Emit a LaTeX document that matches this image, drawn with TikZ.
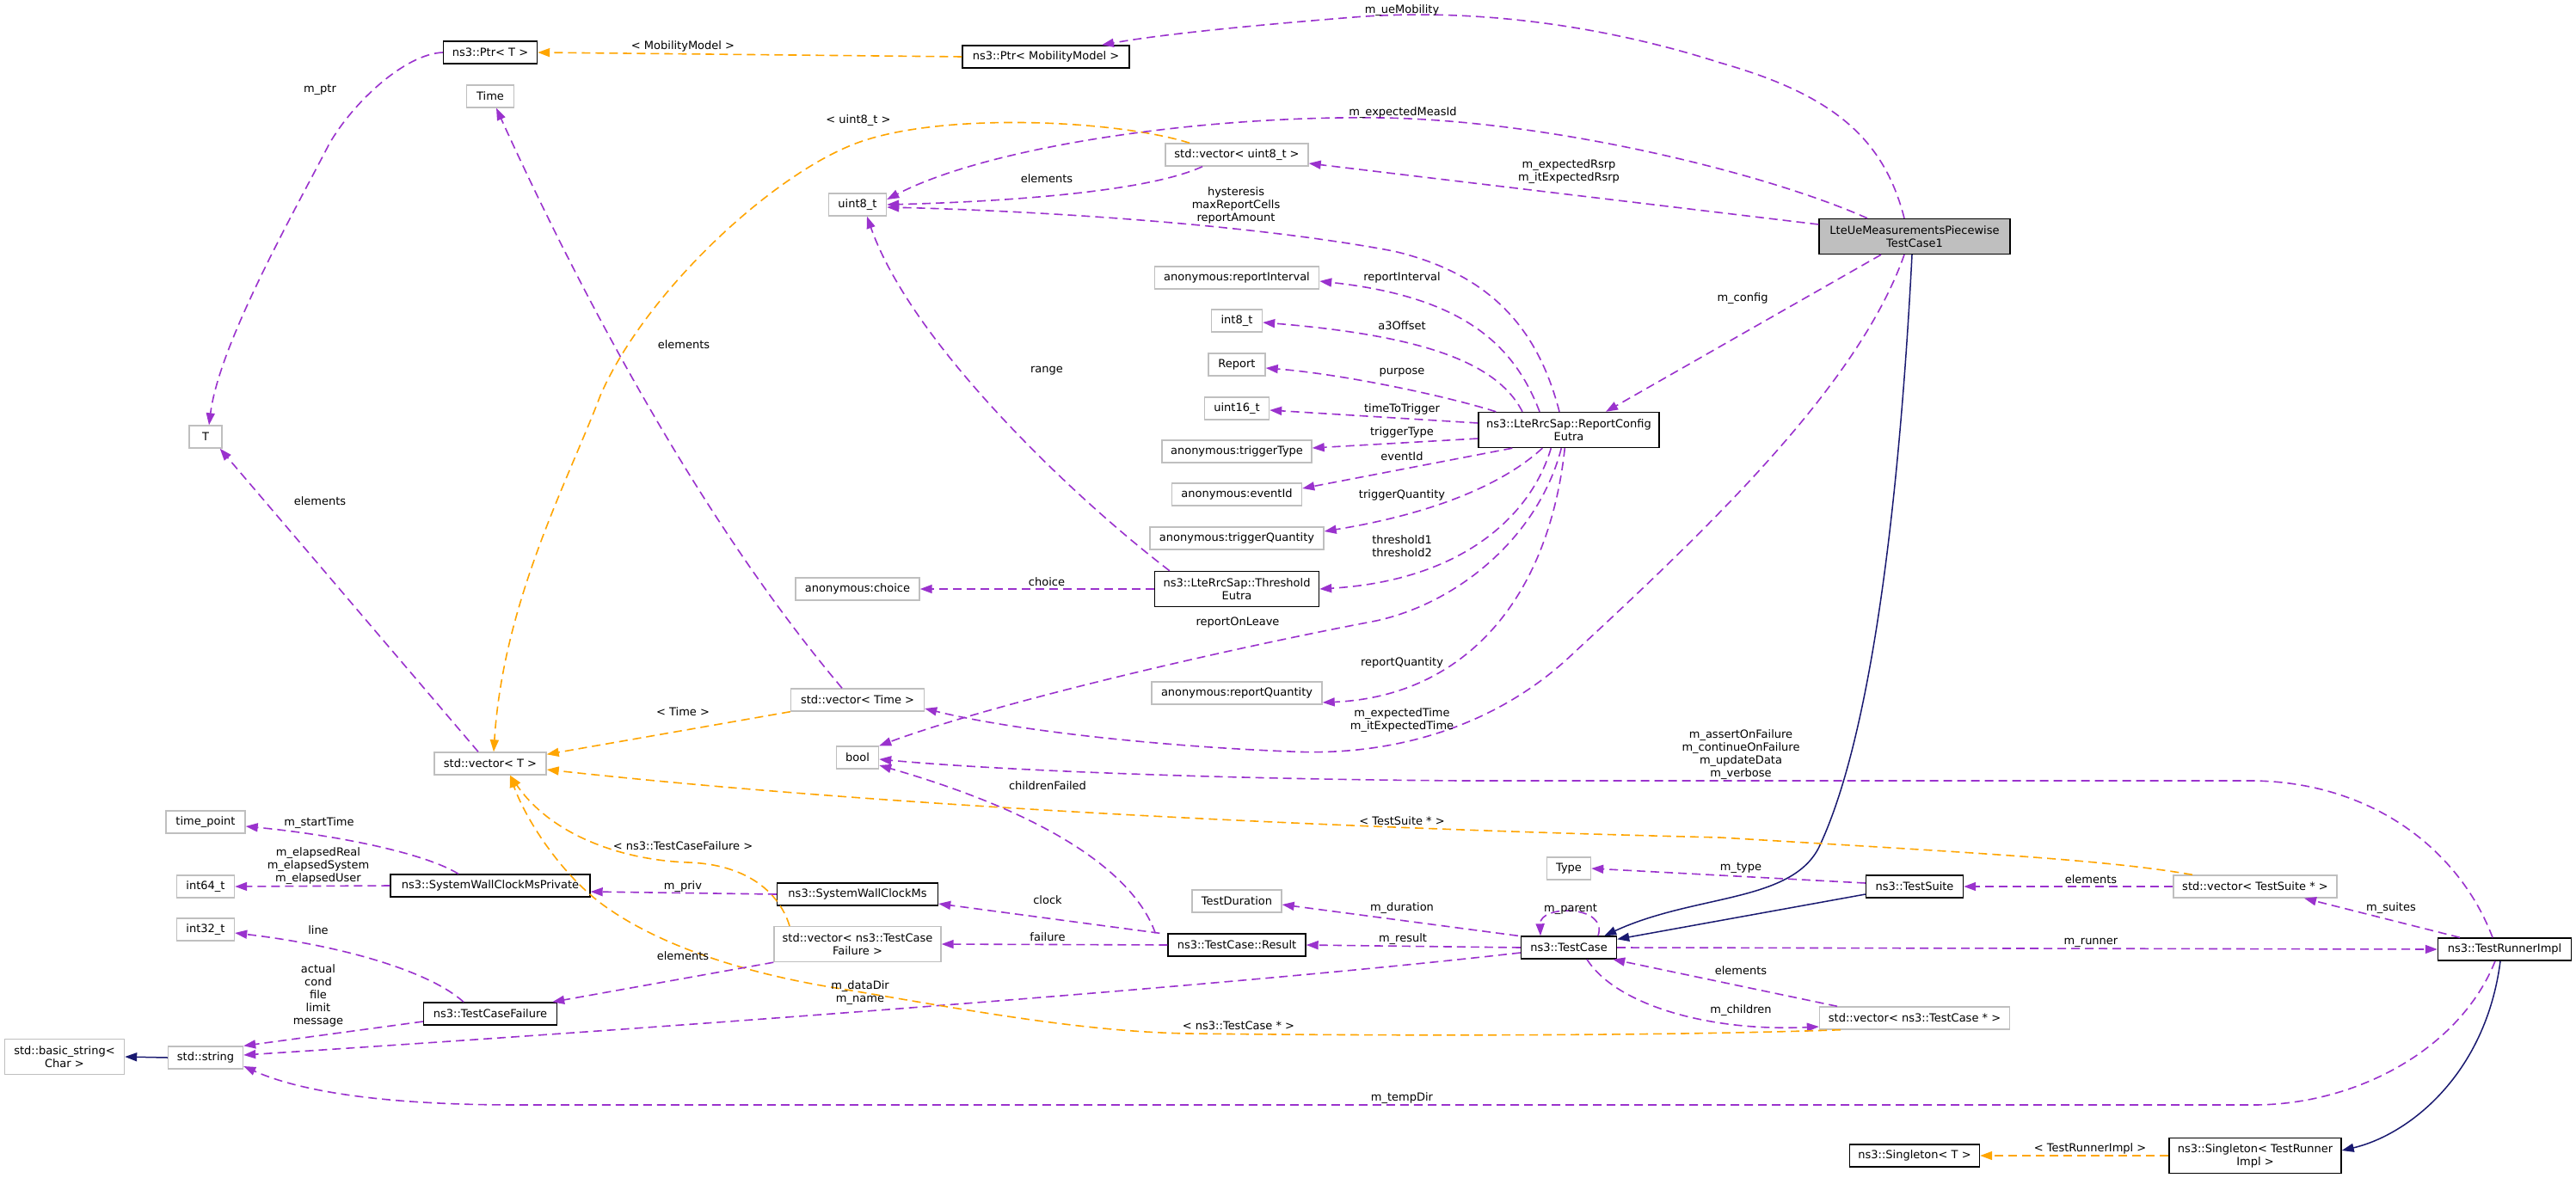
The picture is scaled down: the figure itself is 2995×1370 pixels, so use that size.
\documentclass[tikz,border=0pt]{standalone}
\usepackage{fontspec}
\setmainfont{DejaVu Sans}
\usetikzlibrary{arrows.meta}
\definecolor{purp}{HTML}{9A32CD}
\definecolor{orng}{HTML}{FFA500}
\definecolor{navyc}{HTML}{191970}
\definecolor{greyb}{HTML}{BFBFBF}
\tikzset{
  bx/.style={draw, rectangle, inner sep=0pt, align=center, fill=white,
    font=\fontsize{13}{15}\selectfont, minimum height=26pt, line width=1.4pt},
  nb/.style={bx, draw=black},
  gbx/.style={bx, draw=greyb},
  two/.style={minimum height=41pt},
  lbl/.style={align=center, inner sep=0pt, font=\fontsize{13}{15}\selectfont},
  tip/.style={-{Triangle[length=14pt,width=10pt]}},
  pe/.style={draw=purp, line width=1.6pt, dash pattern=on 10pt off 6pt, tip},
  oe/.style={draw=orng, line width=1.6pt, dash pattern=on 10pt off 6pt, tip},
  ne/.style={draw=navyc, line width=1.5pt, tip},
}
\begin{document}
\begin{tikzpicture}[x=1pt,y=-1pt]
\useasboundingbox (0,0) rectangle (2995,1370);
\fill[white] (0,0) rectangle (2995,1370);

% nodes
\node[nb, minimum width=109pt] (ptrT) at (570,61) {ns3::Ptr< T >};
\node[gbx, minimum width=55pt] (timeN) at (570,112) {Time};
\node[nb, minimum width=194pt] (ptrmm) at (1216,66) {ns3::Ptr< MobilityModel >};
\node[gbx, minimum width=166pt] (vecu8) at (1438,180) {std::vector< uint8\_t >};
\node[gbx, minimum width=67pt] (u8) at (997,238) {uint8\_t};
\node[nb, two, fill=greyb, minimum width=222pt] (lte) at (2226,275) {LteUeMeasurementsPiecewise\\TestCase1};
\node[gbx, minimum width=191pt] (ri) at (1438,323) {anonymous:reportInterval};
\node[gbx, minimum width=59pt] (i8) at (1438,373) {int8\_t};
\node[gbx, minimum width=66pt] (report) at (1438,424) {Report};
\node[gbx, minimum width=38pt] (T) at (239,508) {T};
\node[gbx, minimum width=75pt] (u16) at (1438,475) {uint16\_t};
\node[nb, two, minimum width=210pt] (rce) at (1824,500) {ns3::LteRrcSap::ReportConfig\\Eutra};
\node[gbx, minimum width=174pt] (tt) at (1438,525) {anonymous:triggerType};
\node[gbx, minimum width=151pt] (ev) at (1438,575) {anonymous:eventId};
\node[gbx, minimum width=202pt] (tq) at (1438,626) {anonymous:triggerQuantity};
\node[gbx, minimum width=144pt] (choice) at (997,685) {anonymous:choice};
\node[nb, two, minimum width=191pt] (th) at (1438,685) {ns3::LteRrcSap::Threshold\\Eutra};
\node[gbx, minimum width=198pt] (rq) at (1438,806) {anonymous:reportQuantity};
\node[gbx, minimum width=155pt] (vectime) at (997,814) {std::vector< Time >};
\node[gbx, minimum width=49pt] (bool) at (997,881) {bool};
\node[gbx, minimum width=130pt] (vecT) at (570,888) {std::vector< T >};
\node[gbx, minimum width=92pt] (tp) at (239,956) {time\_point};
\node[gbx, minimum width=67pt] (i64) at (239,1031) {int64\_t};
\node[nb, minimum width=232pt] (swcmp) at (570,1030) {ns3::SystemWallClockMsPrivate};
\node[nb, minimum width=187pt] (swcm) at (997,1040) {ns3::SystemWallClockMs};
\node[gbx, minimum width=67pt] (i32) at (239,1081) {int32\_t};
\node[gbx, two, minimum width=194pt] (vectcf) at (997,1098) {std::vector< ns3::TestCase\\Failure >};
\node[nb, minimum width=155pt] (tcf) at (570,1179) {ns3::TestCaseFailure};
\node[gbx, minimum width=87pt] (str) at (239,1230) {std::string};
\node[gbx, two, minimum width=139pt] (bstr) at (75,1229) {std::basic\_string<\\Char >};
\node[gbx, minimum width=51pt] (type) at (1824,1010) {Type};
\node[gbx, minimum width=104pt] (tdur) at (1438,1048) {TestDuration};
\node[nb, minimum width=111pt] (tc) at (1824,1102) {ns3::TestCase};
\node[nb, minimum width=160pt] (res) at (1438,1099) {ns3::TestCase::Result};
\node[nb, minimum width=113pt] (ts) at (2226,1031) {ns3::TestSuite};
\node[gbx, minimum width=190pt] (vects) at (2622,1031) {std::vector< TestSuite * >};
\node[nb, minimum width=155pt] (tri) at (2912,1104) {ns3::TestRunnerImpl};
\node[gbx, minimum width=221pt] (vectc) at (2226,1184) {std::vector< ns3::TestCase * >};
\node[nb, minimum width=151pt] (sgT) at (2226,1344) {ns3::Singleton< T >};
\node[nb, two, minimum width=200pt] (sgtri) at (2622,1344) {ns3::Singleton< TestRunner\\Impl >};

% edges
\draw[oe] (ptrmm.west) -- (ptrT.east);
\draw[pe] (ptrT.west) .. controls (470,63) and (410,120) .. (383,167) .. controls (340,250) and (255,400) .. ([xshift=4pt]T.north);
\draw[pe] ([xshift=-18pt]vectime.north) .. controls (810,600) and (670,330) .. ([xshift=7pt]timeN.south);
\draw[oe] ([xshift=-55pt]vecu8.north) .. controls (1300,140) and (1100,130) .. (1000,165) .. controls (900,200) and (750,340) .. (698,460) .. controls (660,560) and (585,700) .. ([xshift=4pt]vecT.north);
\draw[pe] ([xshift=-12pt]lte.north) .. controls (2190,160) and (2130,110) .. (2000,73) .. controls (1850,25) and (1700,10) .. (1574,20) .. controls (1450,30) and (1350,40) .. ([xshift=65pt]ptrmm.north);
\draw[pe] ([xshift=-55pt]lte.north) .. controls (2050,200) and (1800,140) .. (1606,137) .. controls (1400,134) and (1150,170) .. ([yshift=6pt]u8.east);
\draw[pe] ([xshift=-40pt]vecu8.south) .. controls (1330,225) and (1150,235) .. (u8.east);
\draw[pe] ([yshift=14pt]lte.west) -- ([yshift=-10pt]vecu8.east);
\draw[pe] ([xshift=-11pt]rce.north) .. controls (1790,390) and (1740,320) .. (1620,292) .. controls (1450,260) and (1200,245) .. ([yshift=-3pt]u8.east);
\draw[pe] ([xshift=-34pt]rce.north) .. controls (1760,400) and (1700,345) .. ([yshift=-4pt]ri.east);
\draw[pe] ([xshift=-54pt]rce.north) .. controls (1740,420) and (1650,390) .. ([yshift=-2pt]i8.east);
\draw[pe] ([xshift=21pt]rce.north west) .. controls (1680,460) and (1560,435) .. ([yshift=-4pt]report.east);
\draw[pe] ([yshift=8pt]rce.west) -- ([yshift=-2pt]u16.east);
\draw[pe] ([yshift=-10pt]rce.west) -- ([yshift=4pt]tt.east);
\draw[pe] ([xshift=40pt]rce.south west) -- ([yshift=7pt]ev.east);
\draw[pe] ([xshift=75pt]rce.south west) .. controls (1740,570) and (1650,600) .. ([yshift=8pt]tq.east);
\draw[pe] ([xshift=85pt]rce.south west) .. controls (1780,600) and (1700,675) .. (th.east);
\draw[pe] (th.west) -- (choice.east);
\draw[pe] ([xshift=18pt]th.north west) .. controls (1250,580) and (1060,400) .. ([xshift=11pt]u8.south);
\draw[pe] ([xshift=97pt]rce.south west) .. controls (1790,620) and (1700,700) .. (1600,722) .. controls (1400,760) and (1150,820) .. (bool.north east);
\draw[pe] ([xshift=101pt]rce.south west) .. controls (1800,700) and (1700,810) .. ([yshift=-11pt]rq.east);
\draw[pe] ([xshift=-39pt]lte.south) -- ([xshift=43pt]rce.north);
\draw[pe] ([xshift=-12pt]lte.south) .. controls (2160,450) and (1980,620) .. (1829,760) .. controls (1740,845) and (1620,880) .. (1500,874) .. controls (1350,868) and (1180,850) .. ([yshift=-10pt]vectime.east);
\draw[ne] ([xshift=-3pt]lte.south) .. controls (2210,550) and (2180,850) .. (2114,987) .. controls (2080,1050) and (1970,1040) .. ([xshift=-15pt]tc.north east);
\draw[ne] ([yshift=-9pt]ts.west) -- ([yshift=-4pt]tc.north east);
\draw[pe] ([yshift=4pt]ts.west) -- (type.east);
\draw[pe] (vects.west) -- (ts.east);
\draw[pe] ([xshift=-52pt]tri.north) -- ([xshift=57pt]vects.south);
\draw[oe] ([xshift=-73pt]vects.north) .. controls (2450,1000) and (2300,992) .. (2000,974) .. controls (1500,962) and (1000,935) .. ([yshift=-7pt]vecT.east);
\draw[pe] ([xshift=-3pt]tc.north west) -- ([yshift=-4pt]tdur.east);
\draw[pe] (tc.west) -- (res.east);
\draw[pe] ([xshift=34pt]tc.north) .. controls (1870,1052) and (1790,1052) .. ([xshift=-33pt]tc.north);
\draw[pe] ([yshift=-6pt]tc.west) .. controls (1400,1150) and (700,1200) .. ([yshift=3pt]str.east);
\draw[pe] ([xshift=-11pt]tri.south) .. controls (2860,1220) and (2740,1285) .. (2620,1285) -- (600,1285) .. controls (450,1285) and (350,1270) .. ([yshift=-10pt]str.east);
\draw[pe] (tc.east) -- (tri.west);
\draw[pe] ([xshift=-90pt]vectc.north) -- ([xshift=-5pt]tc.south east);
\draw[pe] ([xshift=21pt]tc.south) .. controls (1880,1170) and (1990,1200) .. ([yshift=-10pt]vectc.west);
\draw[oe] ([xshift=-86pt]vectc.south) .. controls (1900,1206) and (1550,1204) .. (1383,1202) .. controls (1250,1200) and (1100,1170) .. (960,1147) .. controls (850,1128) and (760,1095) .. (702,1053) .. controls (650,1015) and (610,950) .. ([xshift=23pt]vecT.south);
\draw[oe] ([xshift=-79pt]vectcf.north) .. controls (905,1035) and (865,1005) .. (800,1003) .. controls (720,1000) and (640,970) .. ([xshift=23pt]vecT.south);
\draw[pe] (vectcf.south west) -- ([xshift=-6pt]tcf.north east);
\draw[pe] ([yshift=-9pt]tcf.west) -- (str.north east);
\draw[pe] ([xshift=-31pt]tcf.north) .. controls (500,1130) and (400,1100) .. ([yshift=-4pt]i32.east);
\draw[pe] ([xshift=-37pt]swcmp.north) .. controls (490,990) and (380,970) .. ([yshift=-5pt]tp.east);
\draw[pe] (swcmp.west) -- (i64.east);
\draw[pe] (swcm.west) -- ([yshift=-7pt]swcmp.east);
\draw[pe] ([xshift=-9pt]res.north west) -- ([yshift=-11pt]swcm.east);
\draw[pe] (res.west) -- (vectcf.east);
\draw[pe] ([xshift=-14pt]res.north west) .. controls (1320,1020) and (1230,950) .. ([yshift=-9pt]bool.east);
\draw[pe] ([xshift=-14pt]tri.north) .. controls (2860,990) and (2760,910) .. (2620,908) -- (1700,908) .. controls (1400,906) and (1150,895) .. ([yshift=-2pt]bool.east);
\draw[oe] (sgtri.west) -- (sgT.east);
\draw[ne] ([xshift=-5pt]tri.south) .. controls (2890,1250) and (2800,1320) .. ([yshift=6pt]sgtri.east);
\draw[ne] (str.west) -- (bstr.east);
\draw[oe] (vectime.south west) -- ([yshift=-3pt]vecT.north east);
\draw[pe] ([xshift=-14pt]vecT.north) -- ([xshift=-3pt]T.south east);

% labels
\node[lbl] (l1) at (1630,12) {m\_ueMobility};
\node[lbl] (l2) at (794,54) {< MobilityModel >};
\node[lbl] (l3) at (372,104) {m\_ptr};
\node[lbl] (l4) at (998,140) {< uint8\_t >};
\node[lbl] (l5) at (1631,131) {m\_expectedMeasId};
\node[lbl] (l6) at (1217,208) {elements};
\node[lbl] (l7) at (1824,200) {m\_expectedRsrp\\m\_itExpectedRsrp};
\node[lbl] (l8) at (1437,239) {hysteresis\\maxReportCells\\reportAmount};
\node[lbl] (l9) at (1630,323) {reportInterval};
\node[lbl] (l10) at (1630,379) {a3Offset};
\node[lbl] (l11) at (1630,433) {purpose};
\node[lbl] (l12) at (1217,431) {range};
\node[lbl] (l13) at (795,401) {elements};
\node[lbl] (l14) at (2026,347) {m\_config};
\node[lbl] (l15) at (372,583) {elements};
\node[lbl] (l16) at (1630,476) {timeToTrigger};
\node[lbl] (l17) at (1630,503) {triggerType};
\node[lbl] (l18) at (1630,531) {eventId};
\node[lbl] (l19) at (1630,576) {triggerQuantity};
\node[lbl] (l20) at (1630,635) {threshold1\\threshold2};
\node[lbl] (l21) at (1217,677) {choice};
\node[lbl] (l22) at (1439,724) {reportOnLeave};
\node[lbl] (l23) at (1630,771) {reportQuantity};
\node[lbl] (l24) at (794,828) {< Time >};
\node[lbl] (l25) at (1630,838) {m\_expectedTime\\m\_itExpectedTime};
\node[lbl] (l26) at (2024,878) {m\_assertOnFailure\\m\_continueOnFailure\\m\_updateData\\m\_verbose};
\node[lbl] (l27) at (1218,914) {childrenFailed};
\node[lbl] (l28) at (371,957) {m\_startTime};
\node[lbl] (l29) at (370,1007) {m\_elapsedReal\\m\_elapsedSystem\\m\_elapsedUser};
\node[lbl] (l30) at (370,1082) {line};
\node[lbl] (l31) at (794,984) {< ns3::TestCaseFailure >};
\node[lbl] (l32) at (794,1031) {m\_priv};
\node[lbl] (l33) at (794,1112) {elements};
\node[lbl] (l34) at (370,1158) {actual\\cond\\file\\limit\\message};
\node[lbl] (l35) at (1000,1155) {m\_dataDir\\m\_name};
\node[lbl] (l36) at (1630,955) {< TestSuite * >};
\node[lbl] (l37) at (2024,1009) {m\_type};
\node[lbl] (l38) at (1218,1047) {clock};
\node[lbl] (l39) at (1630,1056) {m\_duration};
\node[lbl] (l40) at (1826,1057) {m\_parent};
\node[lbl] (l41) at (1218,1090) {failure};
\node[lbl] (l42) at (1631,1092) {m\_result};
\node[lbl] (l43) at (2431,1096) {m\_runner};
\node[lbl] (l44) at (2431,1023) {elements};
\node[lbl] (l45) at (2780,1056) {m\_suites};
\node[lbl] (l46) at (2024,1129) {elements};
\node[lbl] (l47) at (2024,1175) {m\_children};
\node[lbl] (l48) at (1440,1193) {< ns3::TestCase * >};
\node[lbl] (l49) at (1630,1277) {m\_tempDir};
\node[lbl] (l50) at (2430,1336) {< TestRunnerImpl >};
\end{tikzpicture}
\end{document}
